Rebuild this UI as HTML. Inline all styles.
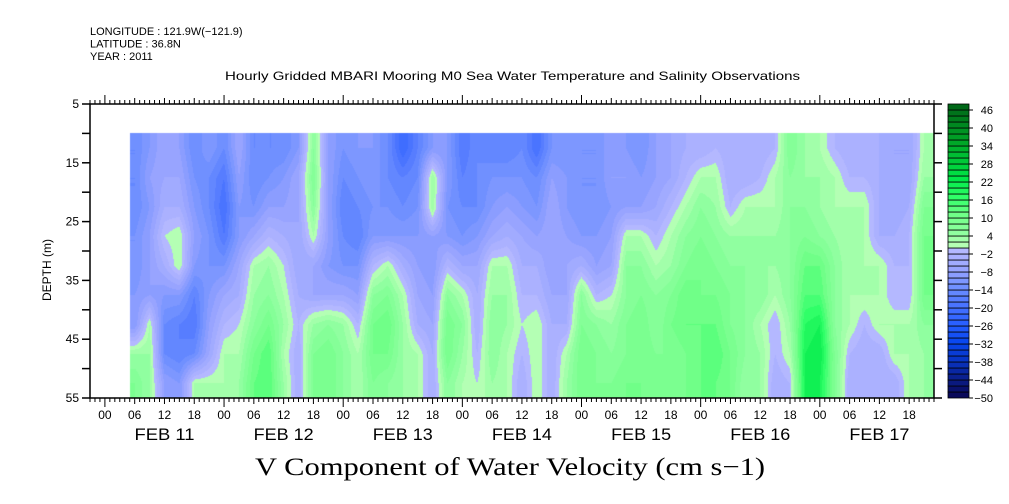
<!DOCTYPE html>
<html><head><meta charset="utf-8">
<style>
body{margin:0;background:#fff;width:1009px;height:504px;overflow:hidden;position:relative;font-family:"Liberation Sans",sans-serif;}
svg{position:absolute;left:0;top:0}
canvas{position:absolute;left:90px;top:104px}
</style></head><body>
<canvas id="hm" width="844" height="294"></canvas>
<svg id="sv" width="1009" height="504"></svg>
<script>
// Data: columns every 3h starting FEB 11 06:00 (hour 9 from FEB 10 21:00); rows depth 12.5..52.5 m
const colHours = [];
for (let k = 0; k < 54; k++) colHours.push(9 + 3 * k);
const rowDepths = [12.5, 17.5, 22.5, 27.5, 32.5, 37.5, 42.5, 47.5, 52.5];
const c00=[-14,-14,-14,-12,-12,-10,-10,4,8];
const c01=[-10,-8,-10,-8,-8,-8,2,4,4];
const c02=[-6,-6,-4,0,-4,-10,-14,-14,-8];
const c03=[-8,-6,-4,2,2,-10,-16,-16,-10];
const c04=[-14,-12,-10,-8,-10,-16,-18,-14,2];
const c05=[-10,-14,-14,-12,-12,-10,-8,-6,2];
const c06=[-14,-18,-20,-18,-12,-6,-2,2,2];
const c07=[-6,-8,-10,-10,-6,-4,0,2,4];
const c08=[-14,-14,-12,-6,2,4,6,10,12];
const c09=[-14,-12,-8,-2,4,6,10,14,14];
const c10=[-14,-10,-8,-4,0,2,4,2,4];
const c11=[-10,-6,-6,-6,-6,-4,-2,-4,-4];
const c12=[6,8,6,2,-6,-6,4,8,8];
const c13=[-8,-8,-8,-8,-10,-6,6,10,10];
const c14=[-12,-14,-16,-14,-12,-6,4,6,6];
const c15=[-10,-12,-14,-16,-12,-8,-2,2,2];
const c16=[-10,-10,-12,-10,-2,6,10,10,8];
const c17=[-14,-14,-12,-10,2,8,12,10,6];
const c18=[-22,-16,-14,-10,-4,2,4,4,4];
const c19=[-16,-14,-12,-10,-8,-6,-4,2,2];
const c20=[-10,4,4,-8,-10,-8,-6,-4,-4];
const c21=[-10,-10,-12,-10,-2,6,10,10,6];
const c22=[-18,-16,-14,-12,-6,2,6,4,2];
const c23=[-14,-14,-14,-10,-6,-4,-4,-2,0];
const c24=[-16,-12,-10,-6,2,4,6,6,4];
const c25=[-16,-12,-8,-4,2,4,4,2,2];
const c26=[-14,-12,-10,-6,-4,-2,0,-2,-4];
const c27=[-20,-14,-12,-8,-4,-2,2,2,2];
const c28=[-12,-8,-6,-6,-8,-6,-4,-4,-4];
const c29=[-12,-10,-10,-8,-6,-6,-4,2,4];
const c30=[-12,-12,-12,-10,-4,6,8,10,10];
const c31=[-12,-12,-12,-10,-8,-2,6,8,8];
const c32=[-8,-8,-10,-8,-6,0,4,6,8];
const c33=[-10,-8,-8,2,6,6,8,8,10];
const c34=[-12,-10,-8,2,6,8,10,10,10];
const c35=[-8,-8,-6,-2,2,6,6,8,8];
const c36=[-6,-6,-2,2,4,8,10,8,8];
const c37=[-4,-2,2,6,8,12,12,10,10];
const c38=[-4,2,6,8,10,10,12,12,12];
const c39=[-2,2,4,6,8,10,12,14,12];
const c40=[-4,-4,-2,4,6,8,8,10,10];
const c41=[-4,-4,2,4,6,6,6,6,4];
const c42=[-4,-2,2,4,4,6,2,4,4];
const c43=[-2,2,2,4,4,2,-2,-2,-4];
const c44=[8,6,6,6,6,6,4,2,-2];
const c45=[4,4,6,8,12,14,18,20,20];
const c46=[2,4,4,6,12,14,20,22,20];
const c47=[-2,2,2,4,6,6,6,8,8];
const c48=[-4,-2,2,2,2,2,2,-2,-4];
const c49=[-2,-2,2,2,2,2,-2,-4,-4];
const c50=[-4,-4,-4,-4,2,2,2,-4,-4];
const c51=[-6,-6,-6,-4,-2,-2,2,2,-4];
const c52=[-6,-6,-4,-2,-2,-2,2,2,2];
const c53=[2,4,8,10,10,10,6,4,4];
const velocity = [c00,c01,c02,c03,c04,c05,c06,c07,c08,c09,c10,c11,c12,c13,c14,c15,c16,c17,c18,c19,c20,c21,c22,c23,c24,c25,c26,c27,c28,c29,c30,c31,c32,c33,c34,c35,c36,c37,c38,c39,c40,c41,c42,c43,c44,c45,c46,c47,c48,c49,c50,c51,c52,c53];
const dataStartHour = 8, dataEndHour = 170, dataTopDepth = 10, dataBottomDepth = 55;
const depthTicks = [5, 15, 25, 35, 45, 55];
const hourLabels = ["00","06","12","18"];
const dayLabels = ["FEB 11","FEB 12","FEB 13","FEB 14","FEB 15","FEB 16","FEB 17"];
const cbarLabels = [46,40,34,28,22,16,10,4,-2,-8,-14,-20,-26,-32,-38,-44,-50];

const X0=90, X1=934, Y0=104, Y1=398, H0=0, H1=170, D0=5, D1=55;
const xs = h => X0 + (h - H0) / (H1 - H0) * (X1 - X0);
const ys = d => Y0 + (d - D0) / (D1 - D0) * (Y1 - Y0);

const anchors=[[-50,[10,10,90]],[-44,[10,32,144]],[-38,[8,54,200]],[-32,[10,72,240]],[-26,[42,96,255]],[-20,[74,116,255]],[-14,[112,144,255]],[-8,[152,164,255]],[-2,[180,184,255]],[0,[180,255,180]],[4,[144,255,160]],[10,[112,255,136]],[16,[48,255,104]],[22,[0,232,72]],[28,[0,200,56]],[34,[0,168,40]],[40,[0,136,32]],[46,[0,104,24]],[48,[0,80,16]]];
function bandColor(lo){
  for(let i=0;i<anchors.length-1;i++){
    const a=anchors[i],b=anchors[i+1];
    if(lo>=a[0]&&lo<=b[0]){const t=(b[0]===a[0])?0:(lo-a[0])/(b[0]-a[0]);return a[1].map((c,j)=>Math.round(c+(b[1][j]-c)*t));}
  }
  return lo<-50?anchors[0][1]:anchors[anchors.length-1][1];
}
function interp(arr, v){
  if(v<=arr[0]) return [0,0];
  if(v>=arr[arr.length-1]) return [arr.length-2,1];
  for(let i=0;i<arr.length-1;i++) if(v<=arr[i+1]) return [i,(v-arr[i])/(arr[i+1]-arr[i])];
}
function valueAt(h,d){
  const [i,t]=interp(colHours,h), [j,u]=interp(rowDepths,d);
  const a=velocity[i][j],b=velocity[i+1][j],c=velocity[i][j+1],e=velocity[i+1][j+1];
  return (a*(1-t)+b*t)*(1-u)+(c*(1-t)+e*t)*u;
}
const cv=document.getElementById('hm'), ctx=cv.getContext('2d');
const img=ctx.createImageData(cv.width,cv.height);
const px0=Math.round(xs(dataStartHour))-X0, px1=Math.round(xs(dataEndHour))-X0;
const py0=Math.round(ys(dataTopDepth))-Y0, py1=Math.round(ys(dataBottomDepth))-Y0;
for(let py=0;py<cv.height;py++)for(let px=0;px<cv.width;px++){
  const k=(py*cv.width+px)*4;
  if(px<px0||px>=px1||py<py0||py>=py1){img.data[k]=255;img.data[k+1]=255;img.data[k+2]=255;img.data[k+3]=255;continue;}
  const h=H0+(px+0.5)/(X1-X0)*(H1-H0), d=D0+(py+0.5)/(Y1-Y0)*(D1-D0);
  const v=valueAt(h,d);
  const lo=Math.floor(v/2)*2;
  const c=bandColor(lo);
  img.data[k]=c[0];img.data[k+1]=c[1];img.data[k+2]=c[2];img.data[k+3]=255;
}
ctx.putImageData(img,0,0);

const NS='http://www.w3.org/2000/svg', sv=document.getElementById('sv');
function el(tag,attrs,parent){const e=document.createElementNS(NS,tag);for(const k in attrs)e.setAttribute(k,attrs[k]);(parent||sv).appendChild(e);return e;}
function txt(s,attrs){const e=el('text',Object.assign({'font-family':'Liberation Sans, sans-serif','font-size':11,fill:'#000'},attrs));e.textContent=s;return e;}

const frame=el('rect',{x:X0,y:Y0,width:X1-X0,height:Y1-Y0,fill:'none',stroke:'#000','stroke-width':1.5});


for(let h=0;h<=H1;h++){
  const x=xs(h), hh=(h+21)%24;
  const len = hh===0?9:(hh%6===0?6:4);
  el('line',{x1:x,y1:Y1,x2:x,y2:Y1+len,stroke:'#000','stroke-width':1});
  el('line',{x1:x,y1:Y0,x2:x,y2:Y0-len,stroke:'#000','stroke-width':1});
  if(hh%6===0){
    const t=txt(hourLabels[hh/6],{x:x,y:419,'text-anchor':'middle','font-size':12});
    
    
  }
}
dayLabels.forEach((s,i)=>{
  const t=txt(s,{x:xs(3+24*i+12),y:440,'text-anchor':'middle','font-size':17,textLength:60,lengthAdjust:'spacingAndGlyphs'});
  
  
});
for(let d=5;d<=55;d+=5){
  el('line',{x1:X0-8,y1:ys(d),x2:X0,y2:ys(d),stroke:'#000','stroke-width':1.5});
  el('line',{x1:X1,y1:ys(d),x2:X1+8,y2:ys(d),stroke:'#000','stroke-width':1.5});
}
depthTicks.forEach(d=>{
  const t=txt(String(d),{x:79,y:ys(d)+4,'text-anchor':'end','font-size':12});
  
  
});
const yt=txt('DEPTH (m)',{x:51,y:270,'text-anchor':'middle','font-size':12,transform:'rotate(-90 51 270)'});


['LONGITUDE : 121.9W(\u2212121.9)','LATITUDE : 36.8N','YEAR : 2011'].forEach((s,i)=>{
  const t=txt(s,{x:90,y:35+i*12.5,'font-size':11});
  
  
});
const tt=txt('Hourly Gridded MBARI Mooring M0 Sea Water Temperature and Salinity Observations',{x:225,y:80,'font-size':12,textLength:575,lengthAdjust:'spacingAndGlyphs'});


const bt=txt('V Component of Water Velocity (cm s\u22121)',{x:255,y:475,'font-size':25,'font-family':'Liberation Serif, serif',textLength:510,lengthAdjust:'spacingAndGlyphs'});


const CB0=104, CB1=398, CBX=948, CBW=21, V0=-50, V1=48;
const cy = v => CB1 - (v - V0) / (V1 - V0) * (CB1 - CB0);
for(let lo=V0;lo<V1;lo+=2){
  const c=bandColor(lo);
  const r=el('rect',{x:CBX,y:cy(lo+2),width:CBW,height:cy(lo)-cy(lo+2),fill:`rgb(${c[0]},${c[1]},${c[2]})`,stroke:'#000','stroke-width':0.8});
  
  
}
cbarLabels.forEach(v=>{
  el('line',{x1:CBX+CBW,y1:cy(v),x2:CBX+CBW+4,y2:cy(v),stroke:'#000','stroke-width':1});
  const t=txt(v<0?'\u2212'+(-v):String(v),{x:993,y:cy(v)+4,'text-anchor':'end','font-size':11});
  
  
});
</script>
</body></html>
